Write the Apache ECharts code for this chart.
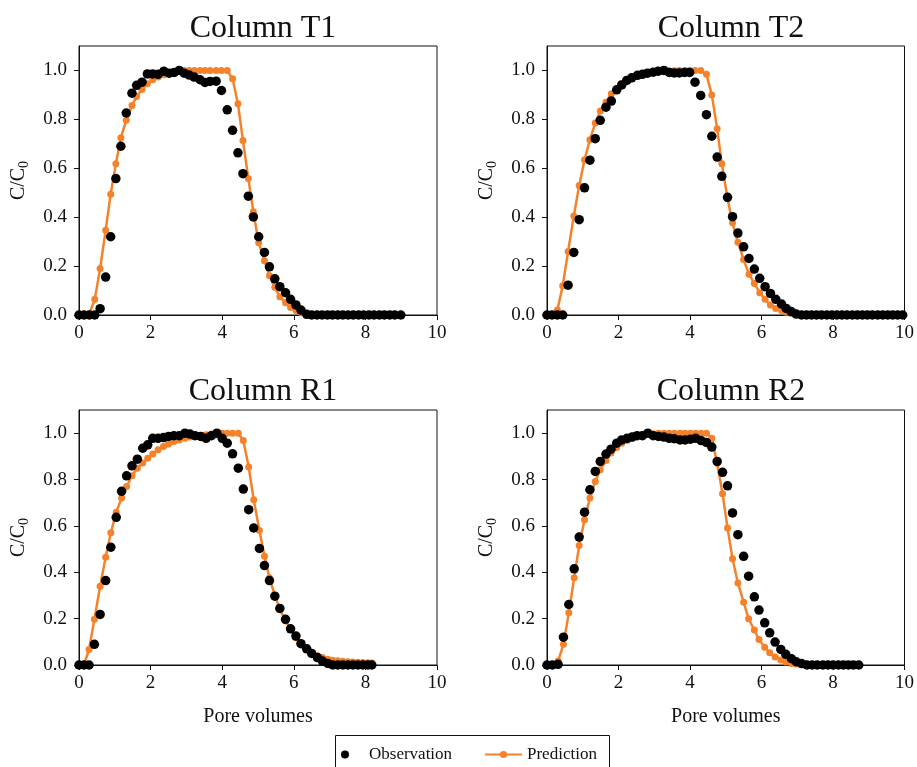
<!DOCTYPE html>
<html>
<head>
<meta charset="utf-8">
<title>Breakthrough curves</title>
<script src="https://cdn.jsdelivr.net/npm/echarts@6/dist/echarts.min.js"></script>
<style>
  html, body { margin: 0; padding: 0; background: #fff; }
  #chart { width: 917px; height: 767px; }
</style>
</head>
<body>
<div id="chart"></div>
<script>
// Panel titles
const panelTitles = ['Column T1', 'Column T2', 'Column R1', 'Column R2'];

// Axis ticks
const xTicks = [0, 2, 4, 6, 8, 10];
const yTicks = [0, 0.2, 0.4, 0.6, 0.8, 1.0];

// Column T1: pore volumes, observed and predicted C/C0
const t1PV = [0.00, 0.14, 0.29, 0.44, 0.59, 0.745, 0.885, 1.03, 1.17, 1.32, 1.48, 1.61, 1.76, 1.91, 2.06, 2.21, 2.37, 2.52, 2.66, 2.80,
  2.94, 3.08, 3.22, 3.38, 3.52, 3.66, 3.83, 3.98, 4.14, 4.29, 4.44, 4.58, 4.73, 4.87, 5.02, 5.18, 5.32, 5.47, 5.61, 5.77,
  5.91, 6.06, 6.20, 6.36, 6.50, 6.65, 6.79, 6.94, 7.08, 7.23, 7.37, 7.52, 7.66, 7.81, 7.95, 8.10, 8.24, 8.39, 8.53, 8.68,
  8.82, 8.99];
const t1Obs = [0, 0, 0, 0, 0.026, 0.155, 0.32, 0.558, 0.69, 0.826, 0.907, 0.939, 0.952, 0.986, 0.986, 0.984, 0.997, 0.989, 0.992, 1.0,
  0.989, 0.981, 0.973, 0.962, 0.951, 0.955, 0.956, 0.918, 0.839, 0.755, 0.663, 0.578, 0.486, 0.401, 0.32, 0.256, 0.197, 0.148, 0.116, 0.091,
  0.064, 0.041, 0.020, 0.003, 0, 0, 0, 0, 0, 0, 0, 0, 0, 0, 0, 0, 0, 0, 0, 0,
  0, 0];
const t1Pred = [0, 0, 0.005, 0.064, 0.19, 0.347, 0.494, 0.619, 0.725, 0.796, 0.857, 0.894, 0.922, 0.946, 0.962, 0.973, 0.982, 0.989, 0.995, 0.997,
  1.0, 1.0, 1.0, 1.0, 1.0, 1.0, 1.0, 1.0, 1.0, 0.966, 0.864, 0.714, 0.558, 0.422, 0.295, 0.222, 0.160, 0.113, 0.075, 0.050,
  0.031, 0.018, 0.010, 0.004, 0.002, 0.001, 0.001, 0, 0, 0, 0, 0, 0, 0, 0, 0, 0, 0, 0, 0,
  0, 0];

// Column T2
const t2PV = [0.00, 0.14, 0.29, 0.44, 0.59, 0.75, 0.90, 1.05, 1.20, 1.35, 1.49, 1.65, 1.80, 1.95, 2.09, 2.23, 2.37, 2.53, 2.67, 2.81,
  2.97, 3.11, 3.27, 3.42, 3.56, 3.70, 3.85, 3.99, 4.14, 4.30, 4.46, 4.61, 4.76, 4.89, 5.05, 5.19, 5.34, 5.50, 5.65, 5.80,
  5.95, 6.10, 6.25, 6.40, 6.56, 6.69, 6.83, 6.97, 7.12, 7.26, 7.40, 7.54, 7.68, 7.83, 7.97, 8.11, 8.25, 8.39, 8.54, 8.68,
  8.82, 8.96, 9.10, 9.25, 9.39, 9.53, 9.67, 9.81, 9.95];
const t2Obs = [0, 0, 0, 0, 0.122, 0.256, 0.39, 0.52, 0.633, 0.721, 0.796, 0.85, 0.875, 0.921, 0.941, 0.959, 0.97, 0.98, 0.984, 0.989,
  0.993, 0.997, 1.0, 0.992, 0.99, 0.99, 0.992, 0.992, 0.952, 0.898, 0.819, 0.731, 0.646, 0.567, 0.481, 0.402, 0.335, 0.279, 0.231, 0.188,
  0.15, 0.116, 0.088, 0.064, 0.045, 0.027, 0.014, 0.004, 0, 0, 0, 0, 0, 0, 0, 0, 0, 0, 0, 0,
  0, 0, 0, 0, 0, 0, 0, 0, 0];
const t2Pred = [0, 0, 0.02, 0.12, 0.26, 0.405, 0.53, 0.635, 0.717, 0.785, 0.834, 0.87, 0.905, 0.925, 0.947, 0.962, 0.973, 0.98, 0.986, 0.99,
  0.993, 0.995, 0.997, 0.998, 0.999, 1.0, 1.0, 1.0, 1.0, 1.0, 0.984, 0.90, 0.762, 0.619, 0.476, 0.377, 0.297, 0.227, 0.167, 0.129,
  0.091, 0.064, 0.041, 0.027, 0.018, 0.011, 0.007, 0.004, 0.003, 0.002, 0.002, 0.002, 0.002, 0.001, 0.001, 0.001, 0.001, 0, 0, 0,
  0, 0, 0, 0, 0, 0, 0, 0, 0];

// Column R1
const r1PV = [0.00, 0.14, 0.28, 0.43, 0.59, 0.745, 0.89, 1.04, 1.19, 1.33, 1.48, 1.63, 1.78, 1.92, 2.06, 2.21, 2.36, 2.50, 2.65, 2.80,
  2.96, 3.10, 3.24, 3.40, 3.55, 3.70, 3.85, 4.00, 4.14, 4.29, 4.45, 4.59, 4.74, 4.88, 5.04, 5.18, 5.32, 5.47, 5.61, 5.77,
  5.91, 6.06, 6.20, 6.36, 6.50, 6.66, 6.80, 6.95, 7.09, 7.23, 7.37, 7.51, 7.65, 7.79, 7.93, 8.07, 8.18];
const r1Obs = [0, 0, 0, 0.089, 0.218, 0.364, 0.508, 0.637, 0.749, 0.816, 0.859, 0.888, 0.935, 0.95, 0.978, 0.978, 0.981, 0.986, 0.989, 0.989,
  1.0, 0.996, 0.989, 0.986, 0.978, 0.989, 1.0, 0.978, 0.957, 0.911, 0.849, 0.759, 0.67, 0.591, 0.503, 0.429, 0.364, 0.297, 0.244, 0.197,
  0.156, 0.125, 0.092, 0.07, 0.05, 0.032, 0.017, 0.007, 0, 0, 0, 0, 0, 0, 0, 0, 0];
const r1Pred = [0, 0, 0.067, 0.197, 0.34, 0.465, 0.57, 0.659, 0.72, 0.77, 0.816, 0.849, 0.871, 0.892, 0.91, 0.928, 0.943, 0.953, 0.964, 0.971,
  0.978, 0.983, 0.986, 0.989, 0.993, 0.996, 1.0, 1.0, 1.0, 1.0, 1.0, 0.968, 0.854, 0.713, 0.58, 0.469, 0.376, 0.30, 0.24, 0.19,
  0.152, 0.118, 0.089, 0.067, 0.05, 0.04, 0.032, 0.025, 0.02, 0.018, 0.016, 0.014, 0.013, 0.012, 0.011, 0.010, 0.009];

// Column R2
const r2PV = [0.00, 0.15, 0.31, 0.46, 0.61, 0.76, 0.90, 1.05, 1.20, 1.35, 1.49, 1.65, 1.79, 1.95, 2.09, 2.24, 2.38, 2.52, 2.67, 2.82,
  2.97, 3.12, 3.27, 3.42, 3.56, 3.72, 3.86, 4.01, 4.16, 4.31, 4.46, 4.61, 4.76, 4.91, 5.05, 5.19, 5.34, 5.50, 5.64, 5.80,
  5.93, 6.09, 6.23, 6.38, 6.54, 6.68, 6.84, 6.97, 7.12, 7.27, 7.42, 7.56, 7.72, 7.86, 8.00, 8.15, 8.29, 8.43, 8.57, 8.72];
const r2Obs = [0, 0, 0.003, 0.12, 0.261, 0.415, 0.552, 0.659, 0.756, 0.835, 0.878, 0.91, 0.931, 0.957, 0.971, 0.978, 0.983, 0.989, 0.989, 1.0,
  0.989, 0.986, 0.983, 0.978, 0.976, 0.971, 0.971, 0.974, 0.978, 0.968, 0.96, 0.94, 0.878, 0.831, 0.773, 0.656, 0.562, 0.469, 0.383, 0.294,
  0.237, 0.182, 0.139, 0.099, 0.067, 0.046, 0.027, 0.014, 0.006, 0, 0, 0, 0, 0, 0, 0, 0, 0, 0, 0];
const r2Pred = [0, 0, 0.017, 0.089, 0.225, 0.376, 0.515, 0.627, 0.72, 0.792, 0.842, 0.882, 0.914, 0.938, 0.957, 0.968, 0.978, 0.989, 0.993, 0.996,
  0.998, 1.0, 1.0, 1.0, 1.0, 1.0, 1.0, 1.0, 1.0, 1.0, 1.0, 0.978, 0.87, 0.739, 0.591, 0.458, 0.354, 0.271, 0.199, 0.151,
  0.11, 0.077, 0.053, 0.034, 0.022, 0.013, 0.007, 0.004, 0.003, 0.002, 0.002, 0.002, 0.001, 0.001, 0.001, 0, 0, 0, 0, 0];

const panels = [
  { pv: t1PV, obs: t1Obs, pred: t1Pred },
  { pv: t2PV, obs: t2Obs, pred: t2Pred },
  { pv: r1PV, obs: r1Obs, pred: r1Pred },
  { pv: r2PV, obs: r2Obs, pred: r2Pred }
];

const FONT = '"Times New Roman", "Liberation Serif", "DejaVu Serif", serif';
const INK = '#111';
const ORANGE = '#F5822A';

// Plot rectangles: two columns, two rows
const gridBoxes = [
  { left: 79,  top: 46,  width: 358, height: 269 },
  { left: 547, top: 46,  width: 358, height: 269 },
  { left: 79,  top: 410, width: 358, height: 255 },
  { left: 547, top: 410, width: 358, height: 255 }
];
const titleCenters = [[258, 8], [726, 8], [258, 371], [726, 371]];

const grids = gridBoxes.map(b => Object.assign({
  show: true, borderColor: INK, borderWidth: 1, backgroundColor: 'transparent', containLabel: false
}, b));

const titles = panelTitles.map((t, i) => ({
  text: t,
  left: titleCenters[i][0],
  top: titleCenters[i][1],
  textAlign: 'center',
  textStyle: { fontFamily: FONT, fontSize: 32, fontWeight: 'normal', color: INK }
}));

const xAxes = gridBoxes.map((b, i) => ({
  type: 'value', gridIndex: i, min: 0, max: 10, interval: 2,
  name: i >= 2 ? 'Pore volumes' : '',
  nameLocation: 'middle', nameGap: 42,
  nameTextStyle: { fontFamily: FONT, fontSize: 20, color: INK },
  axisLine: { show: true, onZero: false, lineStyle: { color: INK, width: 1 } },
  axisTick: { show: true, inside: false, length: 5, lineStyle: { color: INK }, customValues: xTicks },
  axisLabel: { fontFamily: FONT, fontSize: 19, color: INK, margin: 9, customValues: xTicks },
  splitLine: { show: false }
}));

const yAxes = gridBoxes.map((b, i) => ({
  type: 'value', gridIndex: i, min: 0, max: 1.1, interval: 0.2,
  name: 'C/C{sub|0}',
  nameLocation: 'middle', nameRotate: 90, nameGap: 48,
  nameTextStyle: {
    fontFamily: FONT, fontSize: 20, color: INK,
    rich: { sub: { fontFamily: FONT, fontSize: 14, color: INK, verticalAlign: 'bottom', padding: [10, 0, 0, 0] } }
  },
  axisLine: { show: true, onZero: false, lineStyle: { color: INK, width: 1 } },
  axisTick: { show: true, inside: false, length: 5, lineStyle: { color: INK }, customValues: yTicks },
  axisLabel: {
    fontFamily: FONT, fontSize: 19, color: INK, margin: 12, customValues: yTicks,
    formatter: v => Number(v).toFixed(1)
  },
  splitLine: { show: false }
}));

const series = [];
panels.forEach((p, i) => {
  series.push({
    name: 'Prediction', type: 'line', xAxisIndex: i, yAxisIndex: i,
    data: p.pv.map((x, k) => [x, p.pred[k]]),
    symbol: 'circle', symbolSize: 7, showSymbol: true,
    lineStyle: { color: ORANGE, width: 2.5 },
    itemStyle: { color: ORANGE },
    z: 2, animation: false
  });
  series.push({
    name: 'Observation', type: 'scatter', xAxisIndex: i, yAxisIndex: i,
    data: p.pv.map((x, k) => [x, p.obs[k]]),
    symbol: 'circle', symbolSize: 9.5,
    itemStyle: { color: '#000', opacity: 1 },
    z: 3, animation: false
  });
});

const chart = echarts.init(document.getElementById('chart'), null, { renderer: 'canvas' });
chart.setOption({
  backgroundColor: '#fff',
  animation: false,
  title: titles,
  grid: grids,
  xAxis: xAxes,
  yAxis: yAxes,
  legend: [
    {
      data: [{ name: 'Observation', icon: 'circle' }],
      left: 336, top: 741, orient: 'horizontal',
      itemWidth: 38, itemHeight: 8, symbolKeepAspect: true,
      textStyle: { fontFamily: FONT, fontSize: 17, color: INK },
      selectedMode: false
    },
    {
      data: ['Prediction'],
      left: 479, top: 741, orient: 'horizontal',
      itemWidth: 37, itemHeight: 9,
      textStyle: { fontFamily: FONT, fontSize: 17, color: INK },
      selectedMode: false
    }
  ],
  graphic: [{
    type: 'rect', left: 333, top: 733, silent: true,
    shape: { width: 274, height: 44 },
    style: { fill: 'none', stroke: INK, lineWidth: 1 }
  }],
  series: series
});
</script>
</body>
</html>
